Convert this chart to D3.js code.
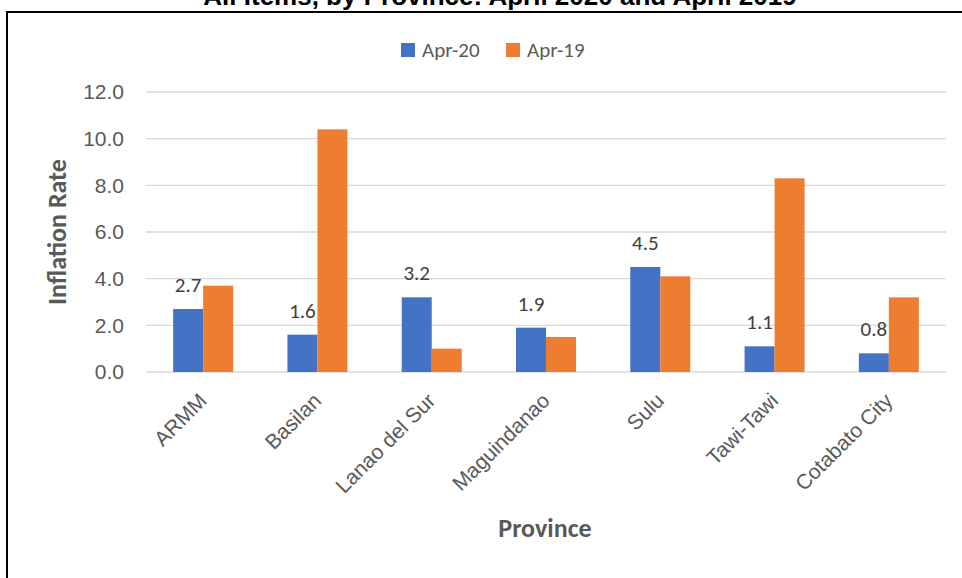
<!DOCTYPE html>
<html>
<head>
<meta charset="utf-8">
<script src="https://cdn.jsdelivr.net/npm/d3@7"></script>
<style>
  body { margin: 0; background: #fff; }
  svg { display: block; font-family: Carlito, Lato, "Liberation Sans", sans-serif; }
</style>
</head>
<body>
<div id="chart"></div>
<script>
// Data
const provinces = ["ARMM", "Basilan", "Lanao del Sur", "Maguindanao", "Sulu", "Tawi-Tawi", "Cotabato City"];
const apr20 = [2.7, 1.6, 3.2, 1.9, 4.5, 1.1, 0.8];
const apr19 = [3.7, 10.4, 1.0, 1.5, 4.1, 8.3, 3.2];
const seriesNames = ["Apr-20", "Apr-19"];
const yTicks = [0, 2, 4, 6, 8, 10, 12];

const W = 962, H = 578;
const margin = {top: 92, right: 16, bottom: 206, left: 146};
const width = W - margin.left - margin.right;
const height = H - margin.top - margin.bottom;

const colors = ["#4472C4", "#ED7D31"];
const textGray = "#595959";

const svg = d3.select("#chart").append("svg")
    .attr("width", W)
    .attr("height", H);

// Frame round the chart (runs past the right and bottom edges)
svg.append("rect")
    .attr("x", 7).attr("y", 12)
    .attr("width", W + 20).attr("height", H + 20)
    .attr("fill", "none")
    .attr("stroke", "#000")
    .attr("stroke-width", 2);

// Title, cut off at the top as in the source
svg.append("text")
    .attr("x", 500)
    .attr("y", 5)
    .attr("text-anchor", "middle")
    .style("font-family", "'Liberation Sans', Arial, sans-serif")
    .style("font-size", "26px")
    .style("font-weight", "bold")
    .attr("fill", "#000")
    .text("All Items, by Province: April 2020 and April 2019");

const g = svg.append("g").attr("transform", `translate(${margin.left},${margin.top})`);

const x = d3.scaleBand().domain(provinces).range([0, width]).paddingInner(0.475).paddingOuter(0.2375);
const x1 = d3.scaleBand().domain(seriesNames).range([0, x.bandwidth()]);
const y = d3.scaleLinear().domain([0, 12]).range([height, 0]);

// Grid
g.append("g")
    .selectAll("line")
    .data(yTicks)
    .join("line")
    .attr("x1", 0).attr("x2", width)
    .attr("y1", d => y(d)).attr("y2", d => y(d))
    .attr("stroke", "#d9d9d9")
    .attr("stroke-width", 1.3);

// Y axis
const yAxis = g.append("g")
    .call(d3.axisLeft(y).tickValues(yTicks).tickFormat(d3.format(".1f")).tickSize(0).tickPadding(22));
yAxis.select(".domain").remove();
yAxis.selectAll("text")
    .attr("fill", textGray)
    .style("font-size", "21px");

// Bars
const table = provinces.map((p, i) => ({province: p, values: [apr20[i], apr19[i]]}));

const groups = g.selectAll(".grp")
    .data(table)
    .join("g")
    .attr("transform", d => `translate(${x(d.province)},0)`);

groups.selectAll("rect")
    .data(d => d.values.map((v, k) => ({name: seriesNames[k], value: v, k})))
    .join("rect")
    .attr("x", d => x1(d.name))
    .attr("y", d => y(d.value))
    .attr("width", x1.bandwidth())
    .attr("height", d => height - y(d.value))
    .attr("fill", d => colors[d.k]);

// Data labels for Apr-20
groups.append("text")
    .attr("x", x1("Apr-20") + x1.bandwidth() / 2)
    .attr("y", d => y(d.values[0]) - 17)
    .attr("text-anchor", "middle")
    .attr("fill", "#404040")
    .style("font-size", "21px")
    .text(d => d3.format(".1f")(d.values[0]));

// X axis
const xAxis = g.append("g")
    .attr("transform", `translate(0,${height})`)
    .call(d3.axisBottom(x).tickSize(0).tickPadding(0));
xAxis.select(".domain").remove();
xAxis.selectAll("text")
    .attr("fill", textGray)
    .style("font-size", "21px")
    .attr("text-anchor", "end")
    .attr("dy", 0)
    .attr("transform", "translate(5,30) rotate(-45)");

// Axis titles
svg.append("text")
    .attr("transform", `translate(66,${margin.top + height / 2}) rotate(-90)`)
    .attr("text-anchor", "middle")
    .attr("fill", textGray)
    .style("font-size", "26px")
    .style("font-weight", "bold")
    .text("Inflation Rate");

svg.append("text")
    .attr("x", 545)
    .attr("y", 537)
    .attr("text-anchor", "middle")
    .attr("fill", textGray)
    .style("font-size", "26px")
    .style("font-weight", "bold")
    .text("Province");

// Legend
const legend = svg.append("g").attr("transform", "translate(401,43)");
const legX = [0, 105];
seriesNames.forEach((n, i) => {
    legend.append("rect")
        .attr("x", legX[i]).attr("y", 0)
        .attr("width", 14).attr("height", 14)
        .attr("fill", colors[i]);
    legend.append("text")
        .attr("x", legX[i] + 21).attr("y", 14)
        .attr("fill", textGray)
        .style("font-size", "21px")
        .text(n);
});
</script>
</body>
</html>
